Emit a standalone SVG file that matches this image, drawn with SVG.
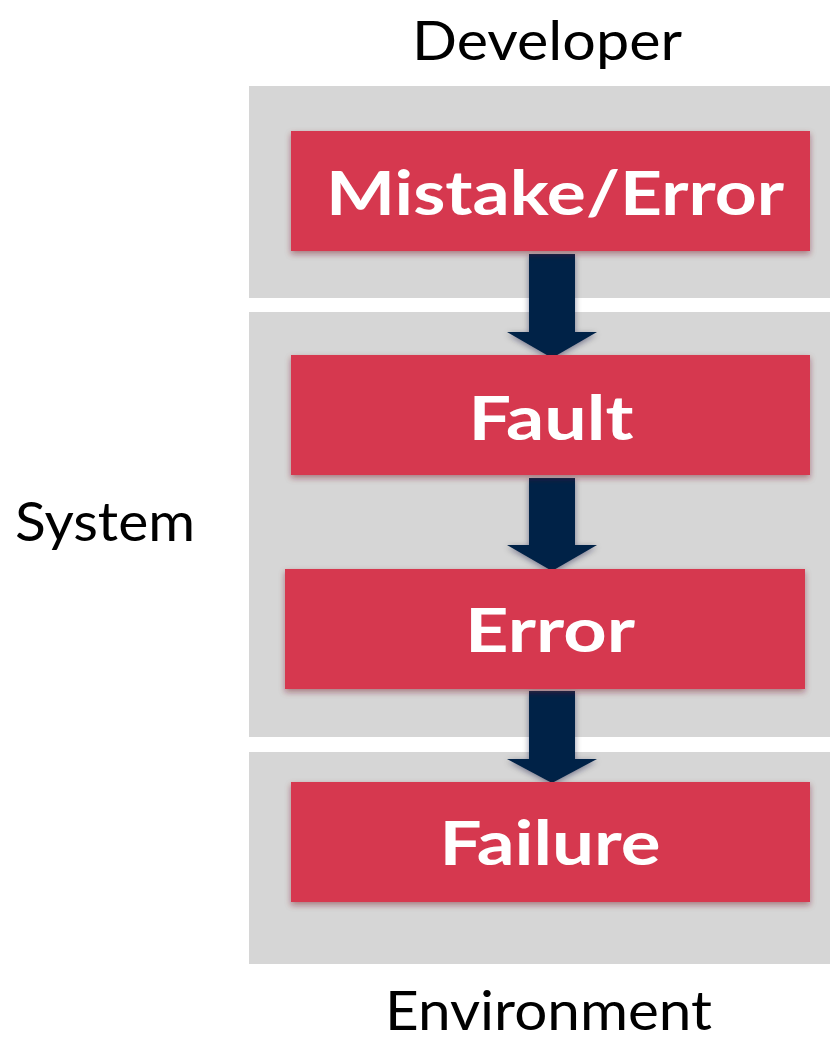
<svg xmlns="http://www.w3.org/2000/svg" width="830" height="1043" viewBox="0 0 830 1043">
  <defs>
    <style>
      .panel { fill: #d6d6d6; }
      .box { fill: #d63850; filter: url(#boxShadow); }
      .boxText { font-family: Lato, "Open Sans", sans-serif; font-weight: bold; font-size: 61px; fill: #ffffff; text-anchor: middle; }
      .label { font-family: Lato, "Open Sans", sans-serif; font-size: 55px; fill: #000000; }
      .arrow { fill: #002147; filter: url(#arrowShadow); }
    </style>
    <filter id="boxShadow" x="-10%" y="-20%" width="120%" height="150%">
      <feGaussianBlur in="SourceAlpha" stdDeviation="3"/>
      <feOffset dx="0" dy="3" result="b"/>
      <feFlood flood-color="#7a1a28" flood-opacity="0.5"/>
      <feComposite in2="b" operator="in"/>
      <feMerge><feMergeNode/><feMergeNode in="SourceGraphic"/></feMerge>
    </filter>
    <filter id="arrowShadow" x="-30%" y="-20%" width="160%" height="150%">
      <feGaussianBlur in="SourceAlpha" stdDeviation="3"/>
      <feOffset dx="0" dy="2" result="b"/>
      <feFlood flood-color="#001030" flood-opacity="0.45"/>
      <feComposite in2="b" operator="in"/>
      <feMerge><feMergeNode/><feMergeNode in="SourceGraphic"/></feMerge>
    </filter>
  </defs>

  <!-- background panels -->
  <g id="panels">
    <rect class="panel" x="249" y="86" width="581" height="212"/>
    <rect class="panel" x="249" y="312" width="581" height="425"/>
    <rect class="panel" x="249" y="752" width="581" height="212"/>
  </g>

  <!-- side labels -->
  <g id="labels">
    <text class="label" x="412" y="60" textLength="270" lengthAdjust="spacingAndGlyphs">Developer</text>
    <text class="label" x="15" y="541" textLength="180" lengthAdjust="spacingAndGlyphs">System</text>
    <text class="label" x="385" y="1030" textLength="327" lengthAdjust="spacingAndGlyphs">Environment</text>
  </g>

  <!-- connectors -->
  <g id="connectors">
    <path class="arrow" d="M529 254 H575 V332 H597 L552 358 L507 332 H529 Z"/>
    <path class="arrow" d="M529 478 H575 V545 H597 L552 571 L507 545 H529 Z"/>
    <path class="arrow" d="M529 691 H575 V759 H597 L552 783 L507 759 H529 Z"/>
  </g>

  <g id="mistake">
    <rect class="box" x="291" y="131" width="519" height="120"/>
    <text class="boxText" x="555" y="215" textLength="458" lengthAdjust="spacingAndGlyphs">Mistake/Error</text>
  </g>
  <g id="fault">
    <rect class="box" x="291" y="355" width="519" height="120"/>
    <text class="boxText" x="551" y="440" textLength="165" lengthAdjust="spacingAndGlyphs">Fault</text>
  </g>
  <g id="error">
    <rect class="box" x="285" y="569" width="520" height="120"/>
    <text class="boxText" x="550" y="652" textLength="170" lengthAdjust="spacingAndGlyphs">Error</text>
  </g>
  <g id="failure">
    <rect class="box" x="291" y="782" width="519" height="120"/>
    <text class="boxText" x="550" y="865" textLength="221" lengthAdjust="spacingAndGlyphs">Failure</text>
  </g>
</svg>
